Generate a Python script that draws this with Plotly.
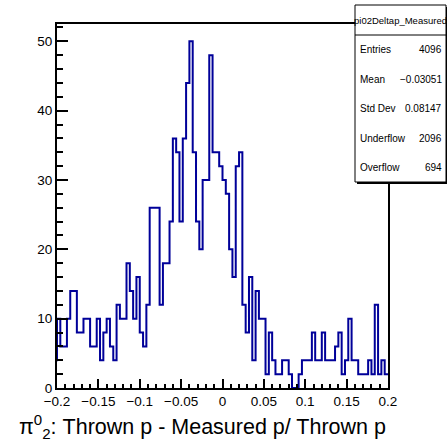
import plotly.graph_objects as go

# pi02Deltap_Measured : 100 bins between -0.2 and 0.2
x_low = -0.2
x_high = 0.2
n_bins = 100
counts = [10, 6, 6, 10, 14, 14, 8, 8, 10, 10,
          6, 6, 10, 4, 8, 10, 6, 4, 12, 10,
          10, 18, 14, 10, 16, 8, 6, 12, 26, 26,
          26, 12, 18, 18, 24, 36, 34, 24, 36, 44,
          50, 34, 24, 20, 30, 30, 48, 34, 34, 32,
          30, 28, 20, 16, 32, 34, 12, 8, 16, 4,
          14, 10, 10, 2, 8, 4, 2, 2, 4, 4,
          2, 0, 0, 2, 4, 4, 4, 8, 4, 4,
          8, 4, 4, 4, 6, 8, 2, 4, 10, 4,
          4, 2, 2, 2, 4, 2, 12, 2, 4, 2]
prev_bin = 4  # bin just left of the range, only its edge is seen

x_tick_vals = [-0.2, -0.15, -0.1, -0.05, 0, 0.05, 0.1, 0.15, 0.2]
x_tick_text = ["\u22120.2", "\u22120.15", "\u22120.1", "\u22120.05", "0", "0.05", "0.1", "0.15", "0.2"]
y_tick_vals = [0, 10, 20, 30, 40, 50]

stats_name = "pi02Deltap_Measured"
stats_labels = ["Entries", "Mean", "Std Dev", "Underflow", "Overflow"]
stats_values = ["4096", "\u22120.03051", "0.08147", "2096", "694"]

x_title = "\u03c0<sup>0</sup><sub>2</sub>: Thrown p - Measured p/ Thrown p"

W, H = 447, 441
L, R, T, B = 57, 388, 24, 388
FONT = "Liberation Sans, Arial, sans-serif"


def px(x):
    return (x - L) / (R - L)


def py(y):
    return (B - y) / (B - T)


bw = (x_high - x_low) / n_bins
edges = [x_low + i * bw for i in range(n_bins + 1)]

fig = go.Figure()
fig.add_trace(go.Scatter(
    x=[x_low - bw] + edges,
    y=[prev_bin] + counts + [counts[-1]],
    mode="lines",
    line=dict(shape="hv", color="#000099", width=2),
    hoverinfo="skip",
))

# stats box
shapes = [
    dict(type="rect", xref="paper", yref="paper", x0=px(357), x1=px(449), y0=py(184), y1=py(7),
         fillcolor="black", line=dict(width=0)),
    dict(type="rect", xref="paper", yref="paper", x0=px(355), x1=px(446), y0=py(182), y1=py(5),
         fillcolor="white", line=dict(color="black", width=1)),
    dict(type="line", xref="paper", yref="paper", x0=px(355), x1=px(446), y0=py(35), y1=py(35),
         line=dict(color="black", width=1)),
]

annotations = [dict(text=stats_name, xref="paper", yref="paper", x=px(400.5), y=py(20),
                    xanchor="center", yanchor="middle", showarrow=False,
                    font=dict(family=FONT, size=9.5, color="black"))]
row_y = [49.5, 79, 108.5, 138, 167.5]
for lab, val, ry in zip(stats_labels, stats_values, row_y):
    annotations.append(dict(text=lab, xref="paper", yref="paper", x=px(358), y=py(ry),
                            xanchor="left", yanchor="middle", showarrow=False,
                            font=dict(family=FONT, size=10, color="black")))
    annotations.append(dict(text=val, xref="paper", yref="paper", x=px(444), y=py(ry),
                            xanchor="right", yanchor="middle", showarrow=False,
                            font=dict(family=FONT, size=10, color="black")))

annotations.append(dict(text=x_title, xref="paper", yref="paper", x=1, y=0,
                        xanchor="right", yanchor="middle", yshift=-38, showarrow=False,
                        font=dict(family=FONT, size=21.5, color="black")))

fig.update_layout(
    width=W, height=H,
    margin=dict(l=L, r=W - R, t=T, b=H - B, pad=0),
    paper_bgcolor="white", plot_bgcolor="white",
    showlegend=False,
    font=dict(family=FONT, color="black"),
    shapes=shapes,
    annotations=annotations,
)

fig.update_xaxes(
    range=[x_low, x_high],
    showline=True, linecolor="black", linewidth=2, mirror=True,
    showgrid=False, zeroline=False,
    ticks="inside", ticklen=9, tickwidth=1.5, tickcolor="black",
    tickvals=x_tick_vals, ticktext=x_tick_text,
    tickfont=dict(family=FONT, size=13.5, color="black"),
    minor=dict(ticks="inside", ticklen=4.5, tickwidth=1.5, tickcolor="black", dtick=0.01, tick0=0, showgrid=False),
)
fig.update_yaxes(
    range=[0, 52.5],
    showline=True, linecolor="black", linewidth=2, mirror=True,
    showgrid=False, zeroline=False,
    ticks="inside", ticklen=11, tickwidth=1.5, tickcolor="black",
    tickvals=y_tick_vals,
    tickfont=dict(family=FONT, size=13.5, color="black"),
    minor=dict(ticks="inside", ticklen=5.5, tickwidth=1.5, tickcolor="black", dtick=2, tick0=0, showgrid=False),
)

# the page body has an 8px default margin; drop it so the figure sits at the corner
fig.write_html("out.html", config={"displayModeBar": False},
               post_script="document.body.style.margin='0';")
